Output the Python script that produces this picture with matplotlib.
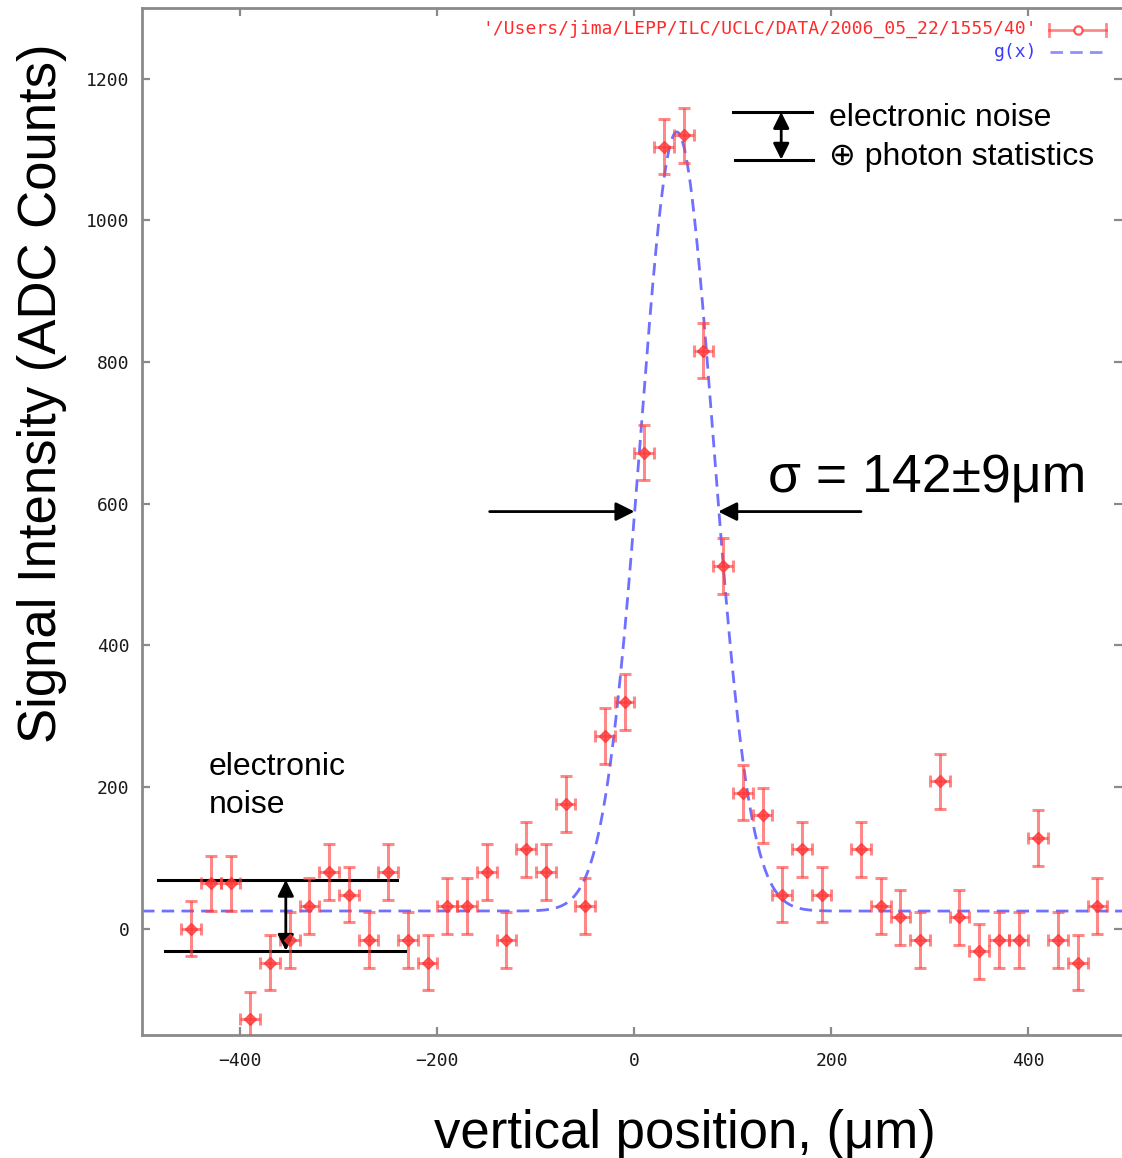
import numpy as np
import matplotlib
matplotlib.use("Agg")
import matplotlib.pyplot as plt

# ---- data ----
x_pos = [-450, -430, -410, -390, -370, -350, -330, -310, -290, -270,
         -250, -230, -210, -190, -170, -150, -130, -110, -90, -70,
         -50, -30, -10, 10, 30, 50, 70, 90, 110, 130,
         150, 170, 190, 230, 250, 270, 290, 310, 330, 350,
         370, 390, 410, 430, 450, 470]
signal = [0, 64, 64, -128, -48, -16, 32, 80, 48, -16,
          80, -16, -48, 32, 32, 80, -16, 112, 80, 176,
          32, 272, 320, 672, 1104, 1120, 816, 512, 192, 160,
          48, 112, 48, 112, 32, 16, -16, 208, 16, -32,
          -16, -16, 128, -16, -48, 32]
x_err = 10
y_err = 39

# Gaussian fit parameters g(x) = base + amp * exp(-(x-mu)^2 / (2 s^2))
fit_base = 25
fit_amp = 1100
fit_mu = 43
fit_sigma = 37

x_ticks = [-400, -200, 0, 200, 400]
y_ticks = [0, 200, 400, 600, 800, 1000, 1200]
legend_data = "'/Users/jima/LEPP/ILC/UCLC/DATA/2006_05_22/1555/40'"
legend_fit = "g(x)"

W, H = 1122, 1158
fig = plt.figure(figsize=(W / 100, H / 100), dpi=100)
ax = fig.add_axes([142 / W, 1 - 1035 / H, (W - 142) / W, (1035 - 8) / H])

ax.set_xlim(-500, 495)
ax.set_ylim(-150, 1300)

# fit curve
xf = np.linspace(-500, 495, 1200)
yf = fit_base + fit_amp * np.exp(-(xf - fit_mu) ** 2 / (2 * fit_sigma ** 2))
ax.plot(xf, yf, color=(0.2, 0.2, 1.0, 0.7), lw=2.0, dashes=(4.5, 2.6), zorder=2)

# data points
red = (1.0, 0.25, 0.25, 0.62)
ax.errorbar(x_pos, signal, xerr=x_err, yerr=y_err, fmt='D', ms=6.5,
            mfc=(1.0, 0.2, 0.2, 0.75), mec=(1.0, 0.2, 0.2, 0.75),
            ecolor=red, elinewidth=2.2, capsize=4, capthick=2.2, zorder=3)

# axes styling
gray = '#8a8a8a'
for side in ['left', 'bottom', 'top']:
    ax.spines[side].set_color(gray)
    ax.spines[side].set_linewidth(2.0)
ax.spines['right'].set_visible(False)
ax.set_xticks(x_ticks)
ax.set_yticks(y_ticks)
ax.tick_params(direction='in', length=6, width=1.6, color=gray,
               top=True, right=True, labelsize=13.0, labelcolor='#1a1a1a')
ax.tick_params(axis='x', pad=12)
ax.tick_params(axis='y', pad=9)
for lab in ax.get_xticklabels() + ax.get_yticklabels():
    lab.set_family('DejaVu Sans Mono')

# legend (gnuplot style)
fig.text(1037 / W, 1 - 29 / H, legend_data, color='#ff2a2a', ha='right', va='center',
         family='DejaVu Sans Mono', fontsize=12.95)
fig.text(1037 / W, 1 - 52 / H, legend_fit, color='#3a3aff', ha='right', va='center',
         family='DejaVu Sans Mono', fontsize=12.95)
tf = fig.transFigure
ax.plot([1049 / W, 1106 / W], [1 - 30 / H] * 2, transform=tf, clip_on=False,
        color=red, lw=2.0)
for xc in (1049, 1106):
    ax.plot([xc / W] * 2, [1 - 24 / H, 1 - 36 / H], transform=tf, clip_on=False,
            color=red, lw=2.0)
ax.plot([1078 / W], [1 - 30 / H], 'o', transform=tf, clip_on=False, ms=6,
        mfc='white', mec=(1.0, 0.2, 0.2, 0.8), mew=1.6)
ax.plot([1050 / W, 1106 / W], [1 - 52 / H] * 2, transform=tf, clip_on=False,
        color=(0.2, 0.2, 1.0, 0.55), lw=2.0, dashes=(4.5, 2.6))

# annotations
tfont = ['Liberation Sans', 'DejaVu Sans']
ann_lw = 2.2
# top-right noise bars
ax.plot([100.5, 180.7], [1153, 1153], color='k', lw=ann_lw, clip_on=False)
ax.plot([102.5, 181.7], [1086, 1086], color='k', lw=ann_lw, clip_on=False)
ax.annotate('', xy=(149, 1153), xytext=(149, 1086),
            arrowprops=dict(arrowstyle='<|-|>', color='k', lw=2.0,
                            mutation_scale=24, shrinkA=0, shrinkB=0))
ax.text(198, 1144, 'electronic noise', fontsize=23, family=tfont, va='center', ha='left')
ax.text(198, 1090, '\u2295 photon statistics', fontsize=23, family=tfont, va='center', ha='left')

# sigma arrows
ax.annotate('', xy=(0, 589), xytext=(-147, 589),
            arrowprops=dict(arrowstyle='-|>', color='k', lw=2.0,
                            mutation_scale=28, shrinkA=0, shrinkB=0))
ax.annotate('', xy=(85, 589), xytext=(230, 589),
            arrowprops=dict(arrowstyle='-|>', color='k', lw=2.0,
                            mutation_scale=28, shrinkA=0, shrinkB=0))
ax.text(136, 636, '\u03c3 = 142\u00b19\u03bcm', fontsize=38.5, family=tfont,
        va='center', ha='left')

# left noise bars
ax.plot([-484, -240.6], [69, 69], color='k', lw=ann_lw)
ax.plot([-477, -232.5], [-31, -31], color='k', lw=ann_lw)
ax.annotate('', xy=(-354, 69), xytext=(-354, -31),
            arrowprops=dict(arrowstyle='<|-|>', color='k', lw=2.0,
                            mutation_scale=24, shrinkA=0, shrinkB=0))
ax.text(-432.5, 228, 'electronic', fontsize=23, family=tfont, va='center', ha='left')
ax.text(-432.5, 175, 'noise', fontsize=23, family=tfont, va='center', ha='left')

# axis labels
fig.text(42 / W, 1 - 393 / H, 'Signal Intensity (ADC Counts)', rotation=90,
         fontsize=38, family=tfont, ha='center', va='center')
fig.text(685 / W, 1 - 1134 / H, 'vertical position, (\u03bcm)',
         fontsize=38, family=tfont, ha='center', va='center')

fig.savefig('out.png', dpi=100)
